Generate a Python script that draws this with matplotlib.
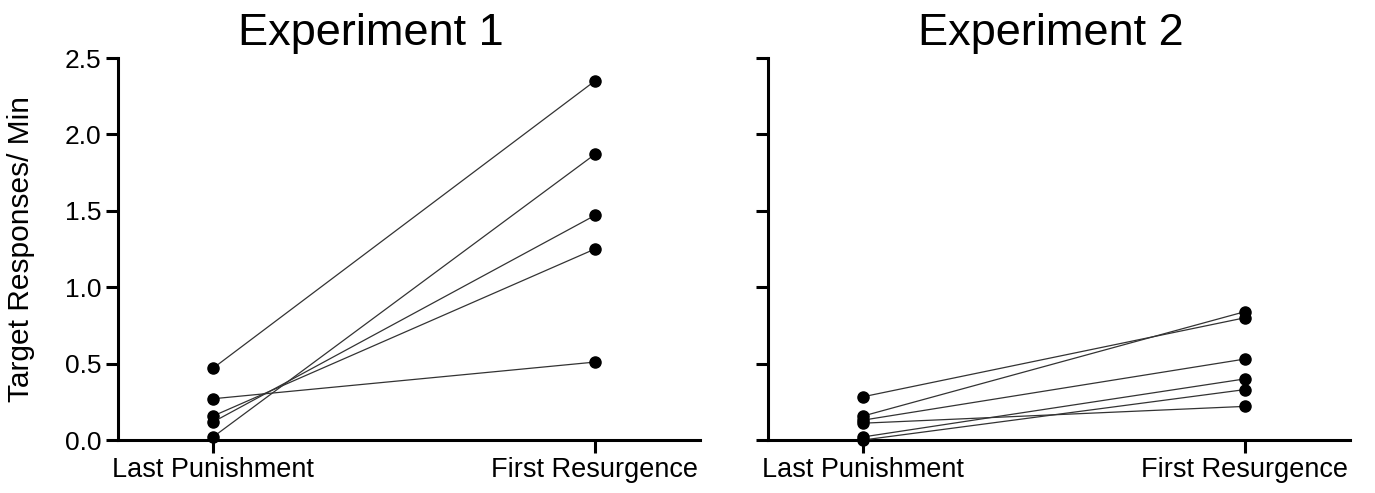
import matplotlib.pyplot as plt
import numpy as np

plt.rcParams['font.family'] = ['Liberation Sans', 'DejaVu Sans']

conditions = ["Last Punishment", "First Resurgence"]

# experiment 1, one entry per subject
exp1_punish = [0.47, 0.27, 0.157, 0.118, 0.02]
exp1_resurg = [2.35, 0.51, 1.25, 1.47, 1.87]

# experiment 2, one entry per subject
exp2_punish = [0.283, 0.157, 0.13, 0.11, 0.02, 0.0]
exp2_resurg = [0.80, 0.84, 0.53, 0.22, 0.40, 0.33]

y_ticks = [0.0, 0.5, 1.0, 1.5, 2.0, 2.5]

W, H = 1375, 493
fig = plt.figure(figsize=(W / 100, H / 100), dpi=100)

ax1 = fig.add_axes([118 / W, 1 - 440 / H, 582 / W, 382 / H])
ax2 = fig.add_axes([768 / W, 1 - 440 / H, 582 / W, 382 / H])


def draw_panel(ax, punish, resurg, show_labels):
    x = np.arange(len(conditions))
    for p, r in zip(punish, resurg):
        ax.plot(x, [p, r], color='#333333', lw=0.9, marker='o',
                markersize=8, markerfacecolor='black',
                markeredgecolor='black', clip_on=False, zorder=3)
    ax.set_xlim(-0.249, 1.275)
    ax.set_ylim(0, 2.5)
    ax.set_xticks(x)
    ax.set_xticklabels(conditions, fontsize=19.5)
    ax.set_yticks(y_ticks)
    if show_labels:
        ax.set_yticklabels([f"{v:.1f}" for v in y_ticks], fontsize=19)
        ax.set_ylabel("Target Responses/ Min", fontsize=21.5)
        ax.yaxis.set_label_coords(-0.142, 0.5)
    else:
        ax.set_yticklabels([])
    for side in ['top', 'right']:
        ax.spines[side].set_visible(False)
    for side in ['left', 'bottom']:
        ax.spines[side].set_linewidth(2.2)
    ax.tick_params(width=2.2, length=9, pad=3)


draw_panel(ax1, exp1_punish, exp1_resurg, True)
draw_panel(ax2, exp2_punish, exp2_resurg, False)

fig.text(371 / W, 1 - 34 / H, "Experiment 1", fontsize=32.5, ha='center', va='center')
fig.text(1051 / W, 1 - 34 / H, "Experiment 2", fontsize=32.5, ha='center', va='center')

fig.savefig("out.png", dpi=100)
